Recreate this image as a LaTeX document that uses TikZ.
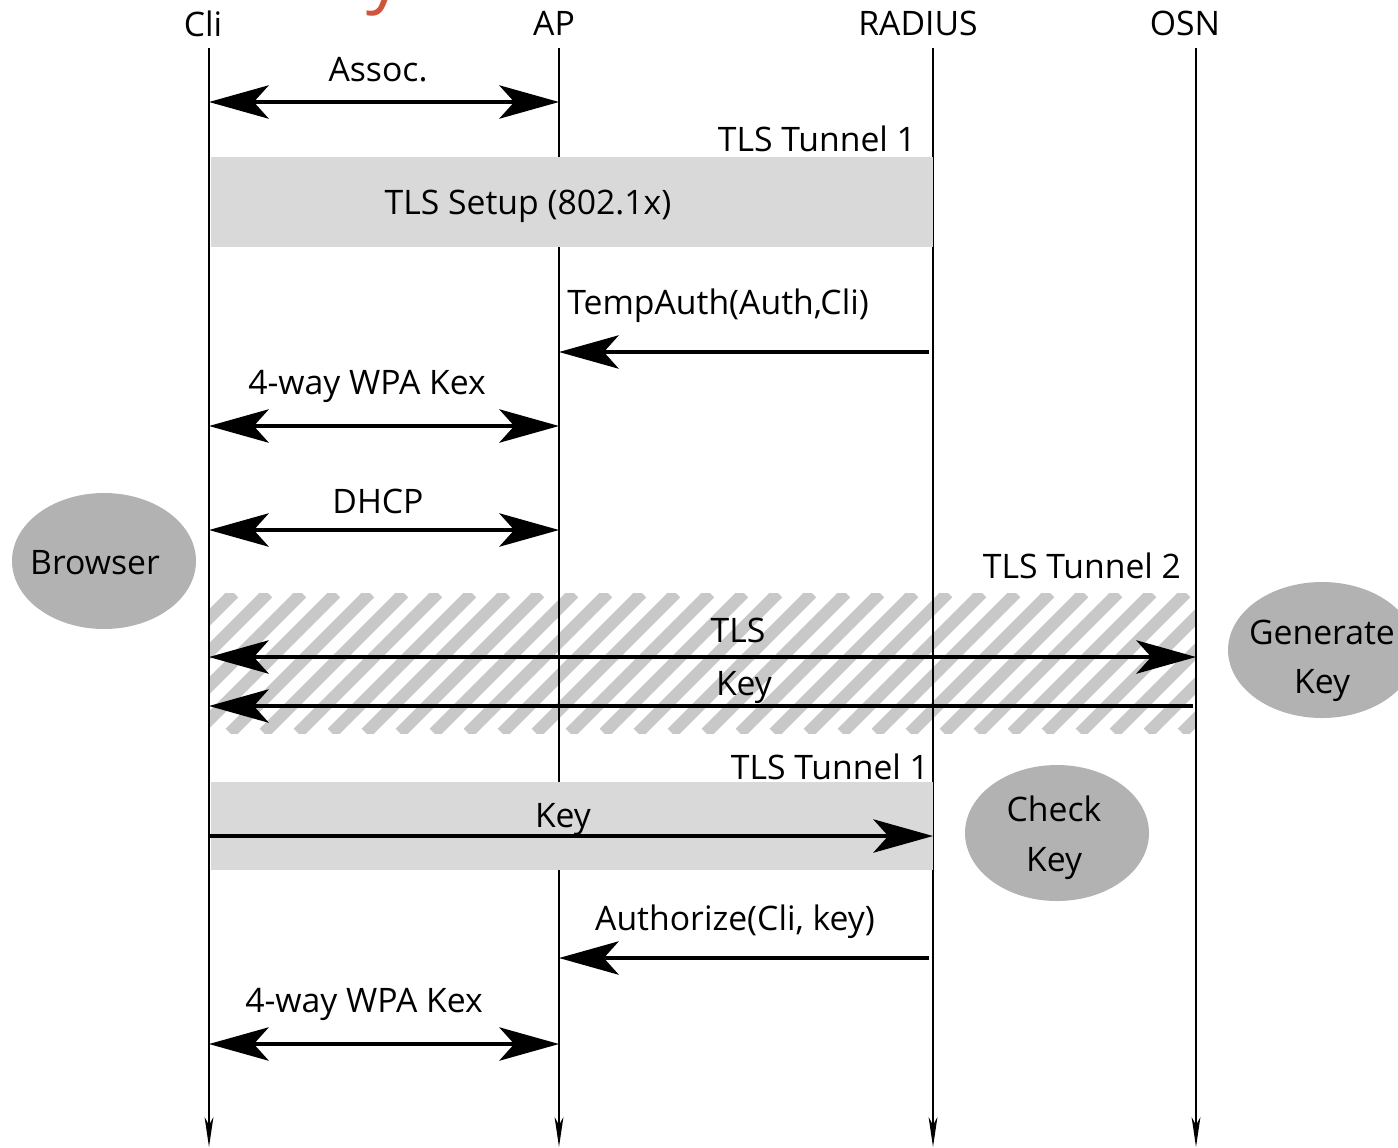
\documentclass[tikz,border=0pt]{standalone}
\usepackage{fontspec}
\setmainfont{Open Sans}
\usetikzlibrary{arrows.meta,shapes.geometric}
\definecolor{boxgray}{RGB}{217,217,217}
\definecolor{ellgray}{RGB}{178,178,178}
\definecolor{hatchgray}{RGB}{200,200,200}
\definecolor{titlered}{RGB}{208,84,60}
\tikzset{
  lbl/.style={font=\fontsize{19.2}{23}\selectfont, inner sep=0pt, text=black, yshift=-1pt},
  life/.style={line width=1.1pt, -{Stealth[length=17pt,width=5pt,inset=4.5pt]}},
  bighead/.tip={Stealth[length=34pt,width=19pt,inset=8.5pt]},
  msgR/.style={line width=1.8pt, -bighead},
  msgL/.style={line width=1.8pt, bighead-},
  msgB/.style={line width=1.8pt, bighead-bighead},
  tunnel/.style={fill=boxgray, draw=none},
}
\begin{document}
\begin{tikzpicture}[x=0.02cm,y=-0.02cm]
\useasboundingbox (0,0) rectangle (1398,1147);
% partial red title glyph (cut off at the top edge, as in the reference)
\node[lbl, font=\fontsize{42}{46}\selectfont, text=titlered, anchor=base west, yshift=0pt] (ttl) at (366,-3) {y};
% headers
\node[lbl] (cli) at (203,22) {Cli};
\node[lbl] (ap) at (554,22) {AP};
\node[lbl] (rad) at (918,22) {RADIUS};
\node[lbl] (osn) at (1185,22) {OSN};
\coordinate (cliT) at (209,48); \coordinate (cliB) at (209,1147);
\coordinate (apT) at (559,48);  \coordinate (apB) at (559,1147);
\coordinate (radT) at (933,48); \coordinate (radB) at (933,1147);
\coordinate (osnT) at (1196,48); \coordinate (osnB) at (1196,1147);
% hatched tunnel 2 (under lifelines)
\begin{scope}
  \clip (209,593) rectangle (1196,733);
  \foreach \i in {0,...,34} {
    \draw[hatchgray, line width=7pt] ({60+\i*34},733) -- ({200+\i*34},593);
  }
\end{scope}
% lifelines
\draw[life] (cliT) -- (cliB);
\draw[life] (apT) -- (apB);
\draw[life] (radT) -- (radB);
\draw[life] (osnT) -- (osnB);
% tunnel 1 boxes (cover AP lifeline)
\fill[tunnel] (211,157) rectangle (933,247);
\node[lbl] (setup) at (528,205) {TLS Setup (802.1x)};
\node[lbl] (t1a) at (817,137) {TLS Tunnel 1};
\fill[tunnel] (211,782) rectangle (933,870);
\node[lbl] (t1b) at (830,765) {TLS Tunnel 1};
\node[lbl] (t2) at (1082,564) {TLS Tunnel 2};
% messages
\coordinate (m1a) at (209,102); \coordinate (m1b) at (559,102);
\draw[msgB] (m1a) -- (m1b);
\node[lbl] (l1) at (378,68) {Assoc.};
\coordinate (m2a) at (929,352); \coordinate (m2b) at (559,352);
\draw[msgR] (m2a) -- (m2b);
\node[lbl] (l2) at (718,304) {TempAuth(Auth,Cli)};
\coordinate (m3a) at (209,426); \coordinate (m3b) at (559,426);
\draw[msgB] (m3a) -- (m3b);
\node[lbl] (l3) at (367,385) {4-way WPA Kex};
\coordinate (m4a) at (209,530); \coordinate (m4b) at (559,530);
\draw[msgB] (m4a) -- (m4b);
\node[lbl] (l4) at (378,500) {DHCP};
\coordinate (m5a) at (209,657); \coordinate (m5b) at (1196,657);
\draw[msgB] (m5a) -- (m5b);
\node[lbl] (l5) at (738,629) {TLS};
\coordinate (m6a) at (1193,706); \coordinate (m6b) at (209,706);
\draw[msgR] (m6a) -- (m6b);
\node[lbl] (l6) at (744,686) {Key};
\coordinate (m7a) at (209,836); \coordinate (m7b) at (933,836);
\draw[msgR] (m7a) -- (m7b);
\node[lbl] (l7) at (563,818) {Key};
\coordinate (m8a) at (929,958); \coordinate (m8b) at (559,958);
\draw[msgR] (m8a) -- (m8b);
\node[lbl] (l8) at (735,920) {Authorize(Cli, key)};
\coordinate (m9a) at (209,1044); \coordinate (m9b) at (559,1044);
\draw[msgB] (m9a) -- (m9b);
\node[lbl] (l9) at (364,1003) {4-way WPA Kex};
% actors
\fill[ellgray] (104,561) ellipse [x radius=92, y radius=68];
\node[lbl] (browser) at (95,561) {Browser};
\fill[ellgray] (1322,650) ellipse [x radius=94, y radius=68];
\node[lbl, align=center] (gen) at (1322,659) {Generate\\[5pt]Key};
\fill[ellgray] (1057,833) ellipse [x radius=92, y radius=68];
\node[lbl, align=center] (chk) at (1054,836) {Check\\[5pt]Key};
\end{tikzpicture}
\end{document}
